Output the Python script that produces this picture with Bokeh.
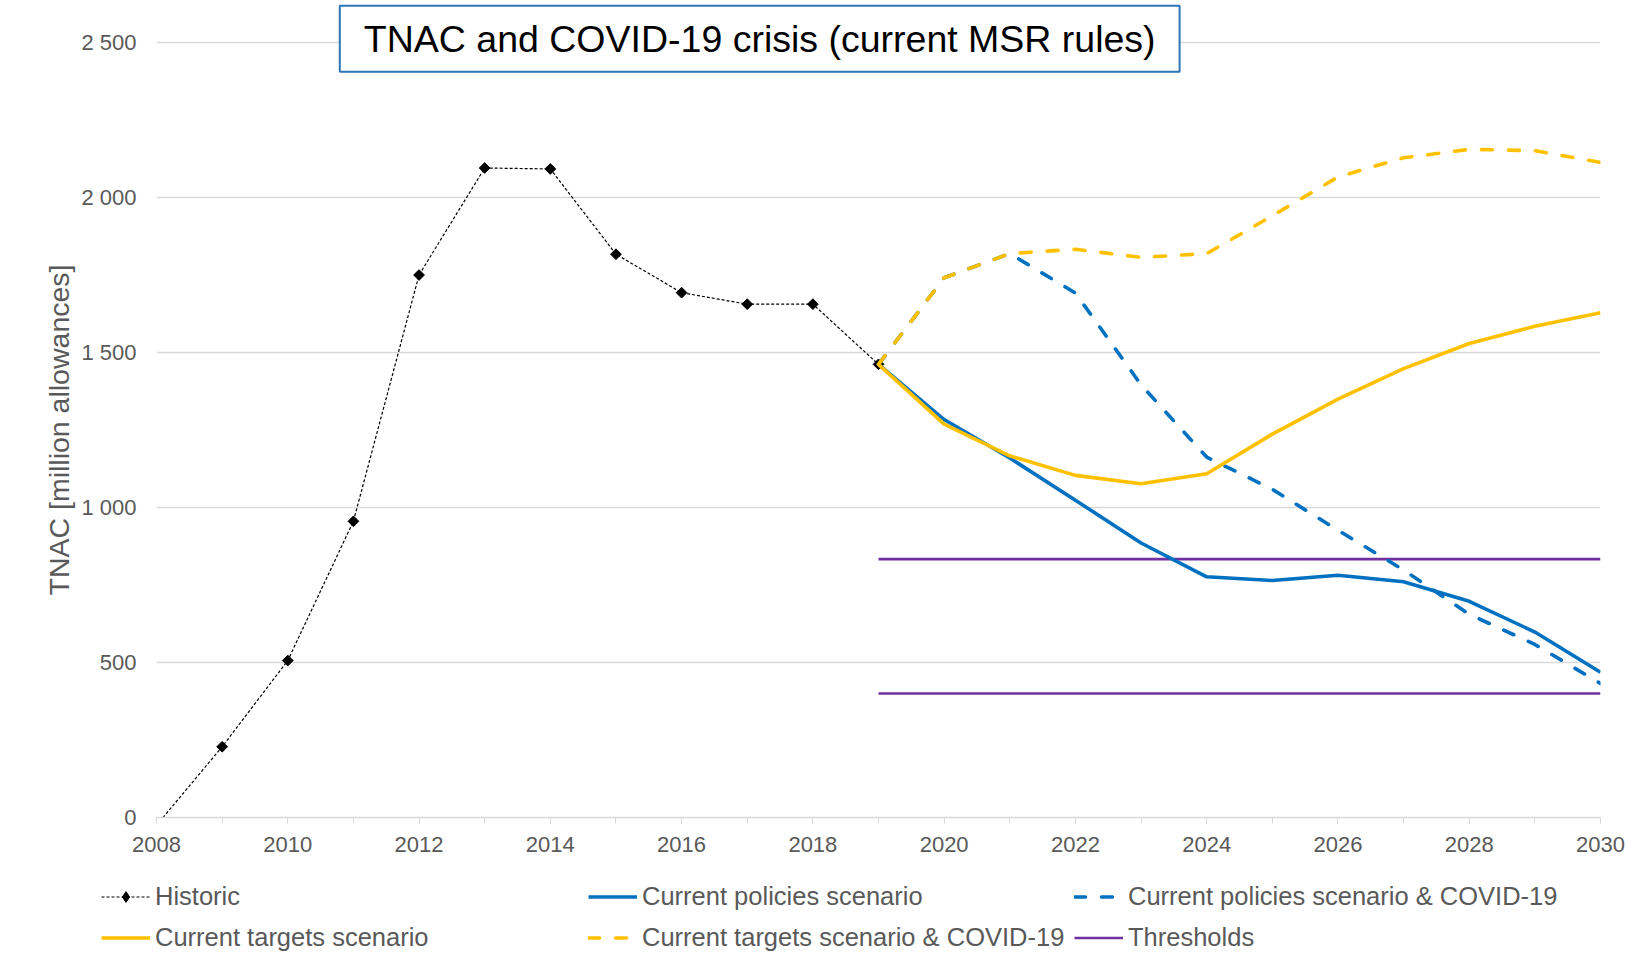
import math
from bokeh.plotting import figure
from bokeh.layouts import column
from bokeh.models import Range1d, FixedTicker, Legend, LegendItem, Label, Title
from bokeh.embed import file_html
from bokeh.resources import INLINE

# ---------------- data ----------------
hist_years = [2008, 2009, 2010, 2011, 2012, 2013, 2014, 2015, 2016, 2017, 2018, 2019]
historic = [-25, 228, 506, 955, 1749, 2094, 2091, 1816, 1692, 1655, 1655, 1461]

scen_years = [2019, 2020, 2021, 2022, 2023, 2024, 2025, 2026, 2027, 2028, 2029, 2030]
current_policies = [1461, 1283, 1159, 1023, 885, 776, 764, 781, 760, 697, 598, 468]
current_policies_covid = [1461, 1740, 1818, 1691, 1395, 1162, 1058, 926, 798, 655, 558, 432]
current_targets = [1461, 1268, 1166, 1103, 1076, 1108, 1236, 1349, 1447, 1528, 1584, 1627]
current_targets_covid = [1461, 1740, 1818, 1832, 1806, 1818, 1940, 2065, 2127, 2154, 2150, 2112]

threshold_years = [2019, 2030]
threshold_upper = [833, 833]
threshold_lower = [400, 400]

x_major_ticks = [2008, 2010, 2012, 2014, 2016, 2018, 2020, 2022, 2024, 2026, 2028, 2030]
x_minor_ticks = list(range(2008, 2031))
y_ticks = [0, 500, 1000, 1500, 2000, 2500]
y_tick_labels = ["0", "500", "1 000", "1 500", "2 000", "2 500"]

title_text = "TNAC and COVID-19 crisis (current MSR rules)"
y_label = "TNAC [million allowances]"

legend_columns = [
    ["Historic", "Current targets scenario"],
    ["Current policies scenario", "Current targets scenario & COVID-19"],
    ["Current policies scenario & COVID-19", "Thresholds"],
]

# ---------------- styling ----------------
FONT = "Liberation Sans"
GREY = "#595959"
GRID = "#D9D9D9"
BLUE = "#0070C0"
YELLOW = "#FFC000"
PURPLE = "#7030A0"

W = 1627
FRAME_H = 817          # frame from canvas top down to the zero line
BOTTOM = 55            # room for the x-axis labels
LEG_H = 83             # legend strip below
NAN = float("nan")

line_styles = {
    "Historic": dict(line_color="black", line_width=1.2, line_dash="3 2"),
    "Thresholds": dict(line_color=PURPLE, line_width=2.6),
    "Current policies scenario": dict(line_color=BLUE, line_width=3.6, line_join="round"),
    "Current policies scenario & COVID-19": dict(line_color=BLUE, line_width=3.6,
                                                 line_dash="11 16", line_cap="round",
                                                 line_join="round"),
    "Current targets scenario": dict(line_color=YELLOW, line_width=3.6, line_join="round"),
    "Current targets scenario & COVID-19": dict(line_color=YELLOW, line_width=3.6,
                                                line_dash="11 16", line_cap="round",
                                                line_join="round"),
}

p = figure(width=W, height=FRAME_H + BOTTOM, output_backend="svg", toolbar_location=None,
           x_range=Range1d(2008, 2030), y_range=Range1d(0, 2634),
           min_border_left=156, min_border_right=27, min_border_top=0,
           min_border_bottom=BOTTOM)
p.frame_align = False
p.outline_line_color = None
p.background_fill_color = "white"
p.border_fill_color = "white"

# axes
p.xaxis.ticker = FixedTicker(ticks=x_major_ticks, minor_ticks=x_minor_ticks)
p.xaxis.axis_line_color = GRID
p.xaxis.axis_line_width = 1.3
p.xaxis.major_tick_line_color = GRID
p.xaxis.minor_tick_line_color = GRID
p.xaxis.major_tick_out = 6
p.xaxis.major_tick_in = 0
p.xaxis.minor_tick_out = 6
p.xaxis.minor_tick_in = 0
p.xaxis.major_label_standoff = 13
p.xaxis.major_label_text_font = FONT
p.xaxis.major_label_text_font_size = "22px"
p.xaxis.major_label_text_color = GREY

p.yaxis.ticker = FixedTicker(ticks=y_ticks)
p.yaxis.major_label_overrides = {t: l for t, l in zip(y_ticks, y_tick_labels)}
p.yaxis.axis_line_color = None
p.yaxis.major_tick_line_color = None
p.yaxis.minor_tick_line_color = None
p.yaxis.major_tick_out = 0
p.yaxis.major_label_standoff = 20
p.yaxis.major_label_text_font = FONT
p.yaxis.major_label_text_font_size = "22px"
p.yaxis.major_label_text_color = GREY

# y-axis caption as a side title, centred on the 0..2500 plot area
ytitle = Title(text=y_label, align="left", offset=222, standoff=8,
               text_font=FONT, text_font_size="28.5px", text_font_style="normal",
               text_color=GREY)
p.add_layout(ytitle, "left")

p.xgrid.grid_line_color = None
p.ygrid.grid_line_color = GRID
p.ygrid.grid_line_width = 1.3

# ---------------- series ----------------
p.line(hist_years, historic, **line_styles["Historic"])
p.scatter(hist_years, historic, marker="square", angle=math.pi / 4, size=7.6,
          fill_color="black", line_color="black")
p.line(threshold_years, threshold_upper, **line_styles["Thresholds"])
p.line(threshold_years, threshold_lower, **line_styles["Thresholds"])
p.line(scen_years, current_policies, **line_styles["Current policies scenario"])
p.line(scen_years, current_policies_covid, **line_styles["Current policies scenario & COVID-19"])
p.line(scen_years, current_targets, **line_styles["Current targets scenario"])
p.line(scen_years, current_targets_covid, **line_styles["Current targets scenario & COVID-19"])

# ---------------- title box ----------------
title = Label(x=2017.19, y=2511, text=title_text, text_align="center",
              text_baseline="middle", text_font=FONT, text_font_size="37.5px",
              text_color="black", background_fill_color="white",
              border_line_color="#2E75B6", border_line_width=2,
              padding=(24, 24, 12, 12))
p.add_layout(title)

# ---------------- legend strip ----------------
q = figure(width=W, height=LEG_H, output_backend="svg", toolbar_location=None,
           x_range=Range1d(0, 1), y_range=Range1d(0, 1), x_axis_type=None,
           y_axis_type=None, min_border=0)
q.frame_align = False
q.outline_line_color = None
q.background_fill_color = "white"
q.border_fill_color = "white"


def legend_renderers(name):
    rs = [q.line([NAN], [NAN], **line_styles[name])]
    if name == "Historic":
        rs.append(q.scatter([NAN], [NAN], marker="diamond", fill_color="black",
                            line_color="black"))
    return rs


legend_x = [101, 588, 1074]
for xoff, names in zip(legend_x, legend_columns):
    items = [LegendItem(label=n, renderers=legend_renderers(n)) for n in names]
    lg = Legend(items=items, location=(xoff, 0), orientation="vertical",
                glyph_width=49, glyph_height=27, label_height=36,
                label_standoff=5, spacing=5, padding=0, margin=0,
                border_line_color=None, background_fill_alpha=0,
                label_text_font=FONT, label_text_font_size="25.5px",
                label_text_color=GREY)
    q.add_layout(lg, "center")

layout = column(p, q, spacing=0)
open("out.html", "w").write(file_html(layout, INLINE))
